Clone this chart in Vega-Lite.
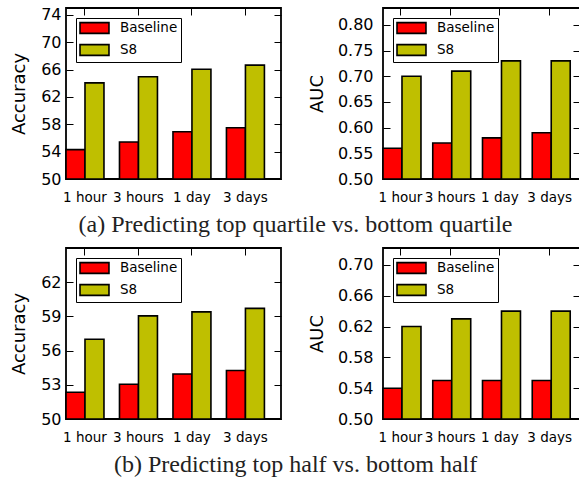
{
  "$schema": "https://vega.github.io/schema/vega-lite/v6.json",
  "background": "white",
  "padding": {"left": 9, "top": 5, "right": 0, "bottom": 0},
  "config": {
    "font": "DejaVu Sans",
    "view": {"stroke": "black", "strokeWidth": 1.8},
    "bar": {"stroke": "black", "strokeWidth": 1.6, "clip": true},
    "axis": {
      "grid": false, "domain": false, "tickColor": "black", "tickSize": -7, "tickWidth": 1,
      "labelColor": "black", "titleColor": "black", "labelFont": "DejaVu Sans", "titleFont": "DejaVu Sans",
      "titleFontWeight": "normal", "titleFontSize": 18, "labelFontSize": 16
    },
    "legend": {
      "orient": "top-left", "offset": 10, "title": null,
      "symbolType": "M-1,-0.89H3.83V0.89H-1Z", "symbolSize": 144,
      "symbolStrokeColor": "black", "symbolStrokeWidth": 1.5,
      "labelFont": "DejaVu Sans", "labelFontSize": 13.5, "labelColor": "black", "labelOffset": 27,
      "padding": 3, "rowPadding": 4, "fillColor": "white", "strokeColor": "black"
    },
    "title": {"font": "Liberation Serif", "fontSize": 24, "fontWeight": "normal", "color": "#222", "orient": "bottom", "offset": 9, "anchor": "middle"}
  },
  "datasets": {
    "a_acc": [
      {"period": "1 hour", "method": "Baseline", "value": 54.3},
      {"period": "3 hours", "method": "Baseline", "value": 55.4},
      {"period": "1 day", "method": "Baseline", "value": 56.9},
      {"period": "3 days", "method": "Baseline", "value": 57.5},
      {"period": "1 hour", "method": "S8", "value": 64.05},
      {"period": "3 hours", "method": "S8", "value": 64.95},
      {"period": "1 day", "method": "S8", "value": 66.05},
      {"period": "3 days", "method": "S8", "value": 66.65}
    ],
    "a_auc": [
      {"period": "1 hour", "method": "Baseline", "value": 0.56},
      {"period": "3 hours", "method": "Baseline", "value": 0.57},
      {"period": "1 day", "method": "Baseline", "value": 0.58},
      {"period": "3 days", "method": "Baseline", "value": 0.59},
      {"period": "1 hour", "method": "S8", "value": 0.70},
      {"period": "3 hours", "method": "S8", "value": 0.71},
      {"period": "1 day", "method": "S8", "value": 0.73},
      {"period": "3 days", "method": "S8", "value": 0.73}
    ],
    "b_acc": [
      {"period": "1 hour", "method": "Baseline", "value": 52.35},
      {"period": "3 hours", "method": "Baseline", "value": 53.05},
      {"period": "1 day", "method": "Baseline", "value": 53.95},
      {"period": "3 days", "method": "Baseline", "value": 54.25},
      {"period": "1 hour", "method": "S8", "value": 57.0},
      {"period": "3 hours", "method": "S8", "value": 59.05},
      {"period": "1 day", "method": "S8", "value": 59.4},
      {"period": "3 days", "method": "S8", "value": 59.7}
    ],
    "b_auc": [
      {"period": "1 hour", "method": "Baseline", "value": 0.54},
      {"period": "3 hours", "method": "Baseline", "value": 0.55},
      {"period": "1 day", "method": "Baseline", "value": 0.55},
      {"period": "3 days", "method": "Baseline", "value": 0.55},
      {"period": "1 hour", "method": "S8", "value": 0.62},
      {"period": "3 hours", "method": "S8", "value": 0.63},
      {"period": "1 day", "method": "S8", "value": 0.64},
      {"period": "3 days", "method": "S8", "value": 0.64}
    ]
  },
  "vconcat": [
    {
      "title": {"text": "(a) Predicting top quartile vs. bottom quartile"},
      "spacing": 24,
      "resolve": {"scale": {"color": "independent"}, "legend": {"color": "independent"}},
      "hconcat": [
        {
          "width": 215, "height": 171,
          "data": {"name": "a_acc"},
          "resolve": {"axis": {"x": "independent", "y": "independent"}},
          "layer": [
            {
              "mark": {"type": "bar"},
              "encoding": {
                "x": {"field": "period", "type": "nominal", "sort": ["1 hour", "3 hours", "1 day", "3 days"],
                      "scale": {"paddingInner": 0.29, "paddingOuter": 0.155, "align": 0},
                      "axis": {"title": null, "orient": "bottom", "labelAngle": 0, "labelFontSize": 13.5, "labelPadding": 18, "bandPosition": 0.5}},
                "xOffset": {"field": "method", "type": "nominal", "sort": ["Baseline", "S8"], "scale": {"paddingInner": 0, "paddingOuter": 0}},
                "y": {"field": "value", "type": "quantitative", "stack": null,
                      "scale": {"domain": [50, 75], "nice": false, "zero": false},
                      "axis": {"title": "Accuracy", "orient": "left", "values": [50, 54, 58, 62, 66, 70, 74], "labelPadding": 12, "titlePadding": 12}},
                "color": {"field": "method", "type": "nominal", "sort": ["Baseline", "S8"],
                          "scale": {"range": ["#ff0000", "#bfbf00"]},
                          "legend": {"encode": {"legend": {"update": {"strokeWidth": {"value": 1.6}}}}}}
              }
            },
            {
              "mark": {"type": "bar", "opacity": 0, "strokeOpacity": 0},
              "encoding": {
                "x": {"field": "period", "type": "nominal", "sort": ["1 hour", "3 hours", "1 day", "3 days"],
                      "axis": {"title": null, "orient": "top", "labels": false, "bandPosition": 0.5}},
                "y": {"field": "value", "type": "quantitative", "stack": null,
                      "axis": {"title": null, "orient": "right", "labels": false, "values": [50, 54, 58, 62, 66, 70, 74]}}
              }
            }
          ]
        },
        {
          "width": 197, "height": 171,
          "data": {"name": "a_auc"},
          "resolve": {"axis": {"x": "independent", "y": "independent"}},
          "layer": [
            {
              "mark": {"type": "bar"},
              "encoding": {
                "x": {"field": "period", "type": "nominal", "sort": ["1 hour", "3 hours", "1 day", "3 days"],
                      "scale": {"paddingInner": 0.3, "paddingOuter": 0.13, "align": 0},
                      "axis": {"title": null, "orient": "bottom", "labelAngle": 0, "labelFontSize": 13.5, "labelPadding": 18, "bandPosition": 0.5}},
                "xOffset": {"field": "method", "type": "nominal", "sort": ["Baseline", "S8"], "scale": {"paddingInner": 0, "paddingOuter": 0}},
                "y": {"field": "value", "type": "quantitative", "stack": null,
                      "scale": {"domain": [0.5, 0.833], "nice": false, "zero": false},
                      "axis": {"title": "AUC", "orient": "left", "format": ".2f", "values": [0.5, 0.55, 0.6, 0.65, 0.7, 0.75, 0.8], "labelPadding": 17, "titlePadding": 11}},
                "color": {"field": "method", "type": "nominal", "sort": ["Baseline", "S8"],
                          "scale": {"range": ["#ff0000", "#bfbf00"]},
                          "legend": {"encode": {"legend": {"update": {"strokeWidth": {"value": 1.6}}}}}}
              }
            },
            {
              "mark": {"type": "bar", "opacity": 0, "strokeOpacity": 0},
              "encoding": {
                "x": {"field": "period", "type": "nominal", "sort": ["1 hour", "3 hours", "1 day", "3 days"],
                      "axis": {"title": null, "orient": "top", "labels": false, "bandPosition": 0.5}},
                "y": {"field": "value", "type": "quantitative", "stack": null,
                      "axis": {"title": null, "orient": "right", "labels": false, "values": [0.5, 0.55, 0.6, 0.65, 0.7, 0.75, 0.8]}}
              }
            }
          ]
        }
      ]
    },
    {
      "title": {"text": "(b) Predicting top half vs. bottom half"},
      "spacing": 24,
      "resolve": {"scale": {"color": "independent"}, "legend": {"color": "independent"}},
      "hconcat": [
        {
          "width": 215, "height": 171,
          "data": {"name": "b_acc"},
          "resolve": {"axis": {"x": "independent", "y": "independent"}},
          "layer": [
            {
              "mark": {"type": "bar"},
              "encoding": {
                "x": {"field": "period", "type": "nominal", "sort": ["1 hour", "3 hours", "1 day", "3 days"],
                      "scale": {"paddingInner": 0.29, "paddingOuter": 0.155, "align": 0},
                      "axis": {"title": null, "orient": "bottom", "labelAngle": 0, "labelFontSize": 13.5, "labelPadding": 18, "bandPosition": 0.5}},
                "xOffset": {"field": "method", "type": "nominal", "sort": ["Baseline", "S8"], "scale": {"paddingInner": 0, "paddingOuter": 0}},
                "y": {"field": "value", "type": "quantitative", "stack": null,
                      "scale": {"domain": [50, 65], "nice": false, "zero": false},
                      "axis": {"title": "Accuracy", "orient": "left", "values": [50, 53, 56, 59, 62], "labelPadding": 12, "titlePadding": 12}},
                "color": {"field": "method", "type": "nominal", "sort": ["Baseline", "S8"],
                          "scale": {"range": ["#ff0000", "#bfbf00"]},
                          "legend": {"encode": {"legend": {"update": {"strokeWidth": {"value": 1.6}}}}}}
              }
            },
            {
              "mark": {"type": "bar", "opacity": 0, "strokeOpacity": 0},
              "encoding": {
                "x": {"field": "period", "type": "nominal", "sort": ["1 hour", "3 hours", "1 day", "3 days"],
                      "axis": {"title": null, "orient": "top", "labels": false, "bandPosition": 0.5}},
                "y": {"field": "value", "type": "quantitative", "stack": null,
                      "axis": {"title": null, "orient": "right", "labels": false, "values": [50, 53, 56, 59, 62]}}
              }
            }
          ]
        },
        {
          "width": 197, "height": 171,
          "data": {"name": "b_auc"},
          "resolve": {"axis": {"x": "independent", "y": "independent"}},
          "layer": [
            {
              "mark": {"type": "bar"},
              "encoding": {
                "x": {"field": "period", "type": "nominal", "sort": ["1 hour", "3 hours", "1 day", "3 days"],
                      "scale": {"paddingInner": 0.3, "paddingOuter": 0.13, "align": 0},
                      "axis": {"title": null, "orient": "bottom", "labelAngle": 0, "labelFontSize": 13.5, "labelPadding": 18, "bandPosition": 0.5}},
                "xOffset": {"field": "method", "type": "nominal", "sort": ["Baseline", "S8"], "scale": {"paddingInner": 0, "paddingOuter": 0}},
                "y": {"field": "value", "type": "quantitative", "stack": null,
                      "scale": {"domain": [0.5, 0.722], "nice": false, "zero": false},
                      "axis": {"title": "AUC", "orient": "left", "format": ".2f", "values": [0.5, 0.54, 0.58, 0.62, 0.66, 0.7], "labelPadding": 17, "titlePadding": 11}},
                "color": {"field": "method", "type": "nominal", "sort": ["Baseline", "S8"],
                          "scale": {"range": ["#ff0000", "#bfbf00"]},
                          "legend": {"encode": {"legend": {"update": {"strokeWidth": {"value": 1.6}}}}}}
              }
            },
            {
              "mark": {"type": "bar", "opacity": 0, "strokeOpacity": 0},
              "encoding": {
                "x": {"field": "period", "type": "nominal", "sort": ["1 hour", "3 hours", "1 day", "3 days"],
                      "axis": {"title": null, "orient": "top", "labels": false, "bandPosition": 0.5}},
                "y": {"field": "value", "type": "quantitative", "stack": null,
                      "axis": {"title": null, "orient": "right", "labels": false, "values": [0.5, 0.54, 0.58, 0.62, 0.66, 0.7]}}
              }
            }
          ]
        }
      ]
    }
  ],
  "spacing": 8,
  "resolve": {"scale": {"color": "independent"}, "legend": {"color": "independent"}}
}
